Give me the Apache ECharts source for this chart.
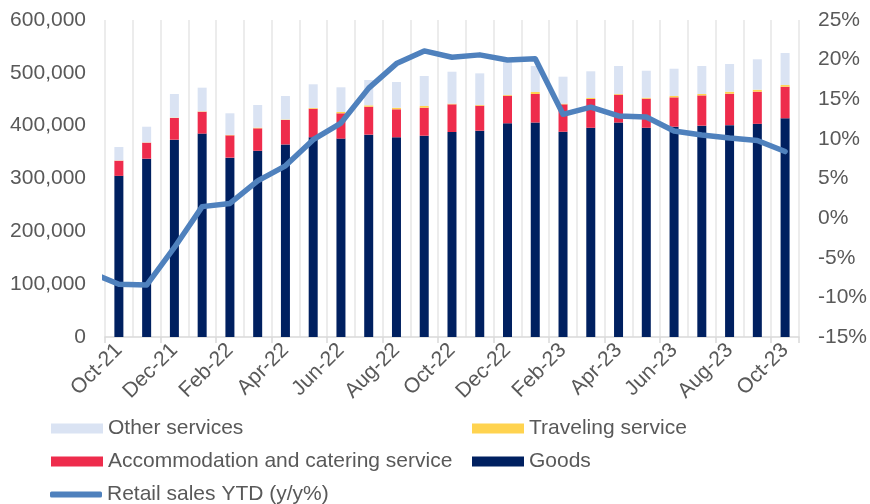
<!DOCTYPE html>
<html>
<head>
<meta charset="utf-8">
<script src="https://cdn.jsdelivr.net/npm/echarts@6/dist/echarts.min.js"></script>
<style>
  html, body { margin: 0; padding: 0; background: #ffffff; }
  #chart { width: 870px; height: 504px; }
</style>
</head>
<body>
<div id="chart"></div>
<script>
// Monthly retail sales by component (stacked bars, left axis) and YTD growth (line, right axis)
const months = ['Oct-21','Nov-21','Dec-21','Jan-22','Feb-22','Mar-22','Apr-22','May-22','Jun-22','Jul-22','Aug-22','Sep-22',
  'Oct-22','Nov-22','Dec-22','Jan-23','Feb-23','Mar-23','Apr-23','May-23','Jun-23','Jul-23','Aug-23','Sep-23','Oct-23'];

const goods = [305000, 337500, 373500, 385000, 339500, 352500, 364500, 378000, 375500, 383000, 378000, 381000,
  388000, 390500, 404500, 406000, 388500, 396000, 406000, 396000, 398000, 400000, 401000, 403500, 414000];
const accommodation = [28700, 30300, 41000, 41400, 42200, 42500, 46200, 54100, 47900, 52900, 53000, 53000,
  52400, 47300, 52200, 53900, 51900, 54500, 52600, 55100, 55600, 57300, 59500, 60800, 59700];
const traveling = [500, 500, 800, 800, 800, 1300, 1000, 1500, 2500, 2600, 3000, 3200,
  1300, 1300, 1300, 3800, 1300, 1900, 1300, 1900, 2500, 2600, 3800, 3800, 3200];
const otherServices = [25400, 29700, 44600, 44700, 40900, 42800, 44400, 44700, 46700, 47900, 48600, 56800,
  60400, 59900, 62000, 49200, 51000, 50500, 53000, 51000, 51700, 53000, 52400, 57500, 60600];

// YTD growth, starting one month before the first bar (Sep-21) so the line enters from the left edge
const ytdStartIndex = -1;
const retailYtd = [-6.9, -8.35, -8.45, -3.7, 1.45, 1.85, 4.7, 6.6, 9.9, 12.0, 16.4, 19.5, 21.1,
  20.3, 20.6, 19.95, 20.1, 13.1, 14.0, 12.9, 12.75, 11.0, 10.5, 10.1, 9.8, 8.4];

const leftTicks = { min: 0, max: 600000, interval: 100000 };
const rightTicks = { min: -15, max: 25, interval: 5 };

const colors = {
  goods: '#002060',
  accommodation: '#EE2C4C',
  traveling: '#FFD34F',
  other: '#DAE3F3',
  line: '#4F81BD'
};

const FONT = 'Liberation Sans, Arial, sans-serif';
const FONT_SIZE = 21;
const labelColor = '#595959';

const chart = echarts.init(document.getElementById('chart'), null, { renderer: 'canvas' });

function legendAt(name, left, top, icon, h) {
  return {
    data: [name],
    left: left, top: top,
    padding: 0,
    itemWidth: 52, itemHeight: h,
    icon: icon,
    selectedMode: false,
    textStyle: { fontFamily: FONT, fontSize: FONT_SIZE, color: labelColor }
  };
}

const ytdData = retailYtd.map((v, i) => [i + ytdStartIndex, v]);

chart.setOption({
  animation: false,
  backgroundColor: '#ffffff',
  grid: { left: 105, right: 67, top: 20, bottom: 167, containLabel: false },
  legend: [
    legendAt('Other services', 51, 418, 'rect', 10),
    legendAt('Traveling service', 472, 418, 'rect', 10),
    legendAt('Accommodation and catering service', 51, 451, 'rect', 10),
    legendAt('Goods', 472, 451, 'rect', 10),
    legendAt('Retail sales YTD (y/y%)', 50, 484, 'roundRect', 6)
  ],
  xAxis: [
    {
      type: 'category',
      data: months,
      boundaryGap: true,
      axisLine: { lineStyle: { color: '#d9d9d9', width: 1.5 } },
      axisTick: { show: true, interval: 1, length: 6, lineStyle: { color: '#d9d9d9', width: 1.5 } },
      axisLabel: {
        interval: 1, rotate: 45, margin: 10,
        fontFamily: FONT, fontSize: FONT_SIZE, color: labelColor
      },
      splitLine: { show: true, interval: 0, lineStyle: { color: '#ececec', width: 2 } }
    },
    {
      type: 'value',
      show: false,
      min: -0.5, max: months.length - 0.5,
      splitLine: { show: false }
    }
  ],
  yAxis: [
    {
      type: 'value',
      min: leftTicks.min, max: leftTicks.max, interval: leftTicks.interval,
      axisLine: { show: false }, axisTick: { show: false },
      splitLine: { show: false },
      axisLabel: {
        margin: 19, fontFamily: FONT, fontSize: FONT_SIZE, color: labelColor,
        formatter: v => v.toLocaleString('en-US')
      }
    },
    {
      type: 'value',
      min: rightTicks.min, max: rightTicks.max, interval: rightTicks.interval,
      axisLine: { show: false }, axisTick: { show: false },
      splitLine: { show: false },
      axisLabel: {
        margin: 19, fontFamily: FONT, fontSize: FONT_SIZE, color: labelColor,
        formatter: v => v + '%'
      }
    }
  ],
  series: [
    { name: 'Goods', type: 'bar', stack: 'sales', data: goods, barWidth: 9,
      itemStyle: { color: colors.goods } },
    { name: 'Accommodation and catering service', type: 'bar', stack: 'sales', data: accommodation, barWidth: 9,
      itemStyle: { color: colors.accommodation } },
    { name: 'Traveling service', type: 'bar', stack: 'sales', data: traveling, barWidth: 9,
      itemStyle: { color: colors.traveling } },
    { name: 'Other services', type: 'bar', stack: 'sales', data: otherServices, barWidth: 9,
      itemStyle: { color: colors.other } },
    { name: 'Retail sales YTD (y/y%)', type: 'line', xAxisIndex: 1, yAxisIndex: 1,
      data: ytdData, showSymbol: false, symbol: 'none', clip: true,
      lineStyle: { color: colors.line, width: 5.5, join: 'round', cap: 'round' },
      itemStyle: { color: colors.line }, z: 5 }
  ]
});
</script>
</body>
</html>
